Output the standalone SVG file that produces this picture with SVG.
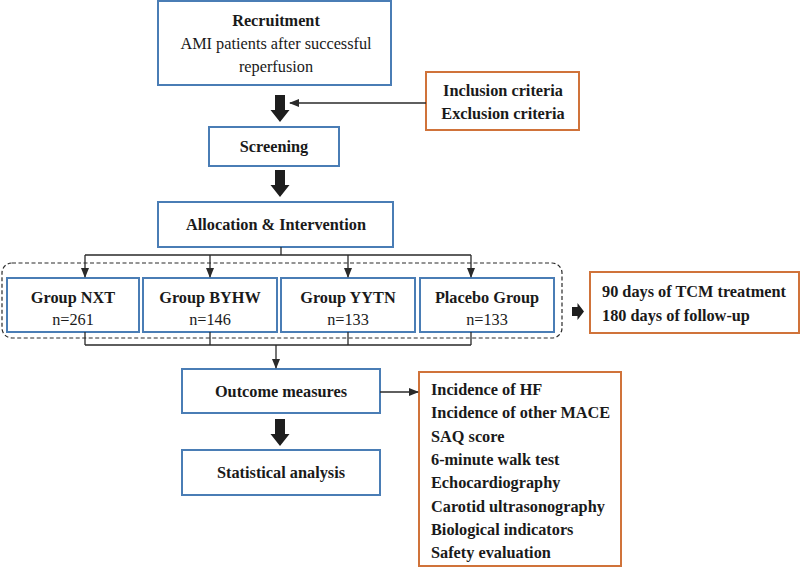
<svg xmlns="http://www.w3.org/2000/svg" width="800" height="568" viewBox="0 0 800 568">
<defs>
<style>
.b{fill:#fff;stroke:#4a7db5;stroke-width:2}
.o{fill:#fff;stroke:#d0733a;stroke-width:2}
text{font-family:"Liberation Serif","Times New Roman",serif;font-size:16.3px;fill:#1a1a1a}
.t{font-weight:bold}
.c{text-anchor:middle}
.ln{fill:none;stroke:#2a2a2a;stroke-width:1.3}
.big{fill:#1e1e1e}
</style>
<marker id="ah" markerWidth="10" markerHeight="8" refX="9" refY="4" orient="auto" markerUnits="userSpaceOnUse">
<path d="M0,0 L10,4 L0,8 Z" fill="#2a2a2a"/>
</marker>
</defs>
<rect width="800" height="568" fill="#fff"/>

<g id="recruitment">
<rect class="b" x="158" y="1" width="233" height="84"/>
<text class="t c" x="276" y="26">Recruitment</text>
<text class="c" x="276" y="49">AMI patients after successful</text>
<text class="c" x="276" y="72">reperfusion</text>
</g>

<g id="criteria">
<rect class="o" x="426" y="72" width="153" height="58"/>
<text class="t c" x="503" y="96">Inclusion criteria</text>
<text class="t c" x="503" y="119">Exclusion criteria</text>
</g>

<g id="screening">
<rect class="b" x="209" y="127" width="130" height="39"/>
<text class="t c" x="274" y="152">Screening</text>
</g>

<g id="allocation">
<rect class="b" x="158" y="202" width="235" height="45"/>
<text class="t c" x="276" y="230">Allocation &amp; Intervention</text>
</g>

<g id="groups-frame">
<rect x="2" y="263" width="560" height="75" rx="10" fill="none" stroke="#2a2a2a" stroke-width="1.2" stroke-dasharray="4,2.5"/>
</g>

<g id="group-nxt">
<rect class="b" x="7" y="278" width="132" height="54"/>
<text class="t c" x="73" y="303">Group NXT</text>
<text class="c" x="73" y="325">n=261</text>
</g>
<g id="group-byhw">
<rect class="b" x="143" y="278" width="134" height="54"/>
<text class="t c" x="210" y="303">Group BYHW</text>
<text class="c" x="210" y="325">n=146</text>
</g>
<g id="group-yytn">
<rect class="b" x="281" y="278" width="134" height="54"/>
<text class="t c" x="348" y="303">Group YYTN</text>
<text class="c" x="348" y="325">n=133</text>
</g>
<g id="group-placebo">
<rect class="b" x="420" y="278" width="134" height="54"/>
<text class="t c" x="487" y="303">Placebo Group</text>
<text class="c" x="487" y="325">n=133</text>
</g>

<g id="treatment">
<rect class="o" x="590" y="272" width="209" height="61"/>
<text class="t" x="602" y="297">90 days of TCM treatment</text>
<text class="t" x="602" y="321">180 days of follow-up</text>
</g>

<g id="outcome">
<rect class="b" x="182" y="369" width="198" height="44"/>
<text class="t c" x="281" y="397">Outcome measures</text>
</g>

<g id="statistical">
<rect class="b" x="182" y="450" width="198" height="45"/>
<text class="t c" x="281" y="478">Statistical analysis</text>
</g>

<g id="outcome-list">
<rect class="o" x="419" y="372" width="202" height="194"/>
<text class="t" x="431" y="395">Incidence of HF</text>
<text class="t" x="431" y="418">Incidence of other MACE</text>
<text class="t" x="431" y="441.5">SAQ score</text>
<text class="t" x="431" y="465">6-minute walk test</text>
<text class="t" x="431" y="488">Echocardiography</text>
<text class="t" x="431" y="511.5">Carotid ultrasonography</text>
<text class="t" x="431" y="535">Biological indicators</text>
<text class="t" x="431" y="558">Safety evaluation</text>
</g>

<g id="connectors">
<path class="big" d="M275,95 H285 V110 H289.5 L280,122 L270.5,110 H275 Z"/>
<path class="big" d="M275,170 H285 V185 H289.5 L280,197 L270.5,185 H275 Z"/>
<path class="big" d="M275,419 H285 V434 H289.5 L280,446 L270.5,434 H275 Z"/>
<path class="big" d="M572,307 H577.5 V303 L584,311.5 L577.5,320 V316 H572 Z"/>
<line class="ln" x1="426" y1="103" x2="290" y2="103" marker-end="url(#ah)"/>
<path class="ln" d="M281,247 V255 M85,255 H471"/>
<line class="ln" x1="85" y1="255" x2="85" y2="277" marker-end="url(#ah)"/>
<line class="ln" x1="210" y1="255" x2="210" y2="277" marker-end="url(#ah)"/>
<line class="ln" x1="348" y1="255" x2="348" y2="277" marker-end="url(#ah)"/>
<line class="ln" x1="471" y1="255" x2="471" y2="277" marker-end="url(#ah)"/>
<path class="ln" d="M85,332 V345 M210,332 V345 M348,332 V345 M471,332 V345 M85,345 H471"/>
<line class="ln" x1="276" y1="345" x2="276" y2="368" marker-end="url(#ah)"/>
<line class="ln" x1="380" y1="392" x2="418" y2="392" marker-end="url(#ah)"/>
</g>
</svg>
